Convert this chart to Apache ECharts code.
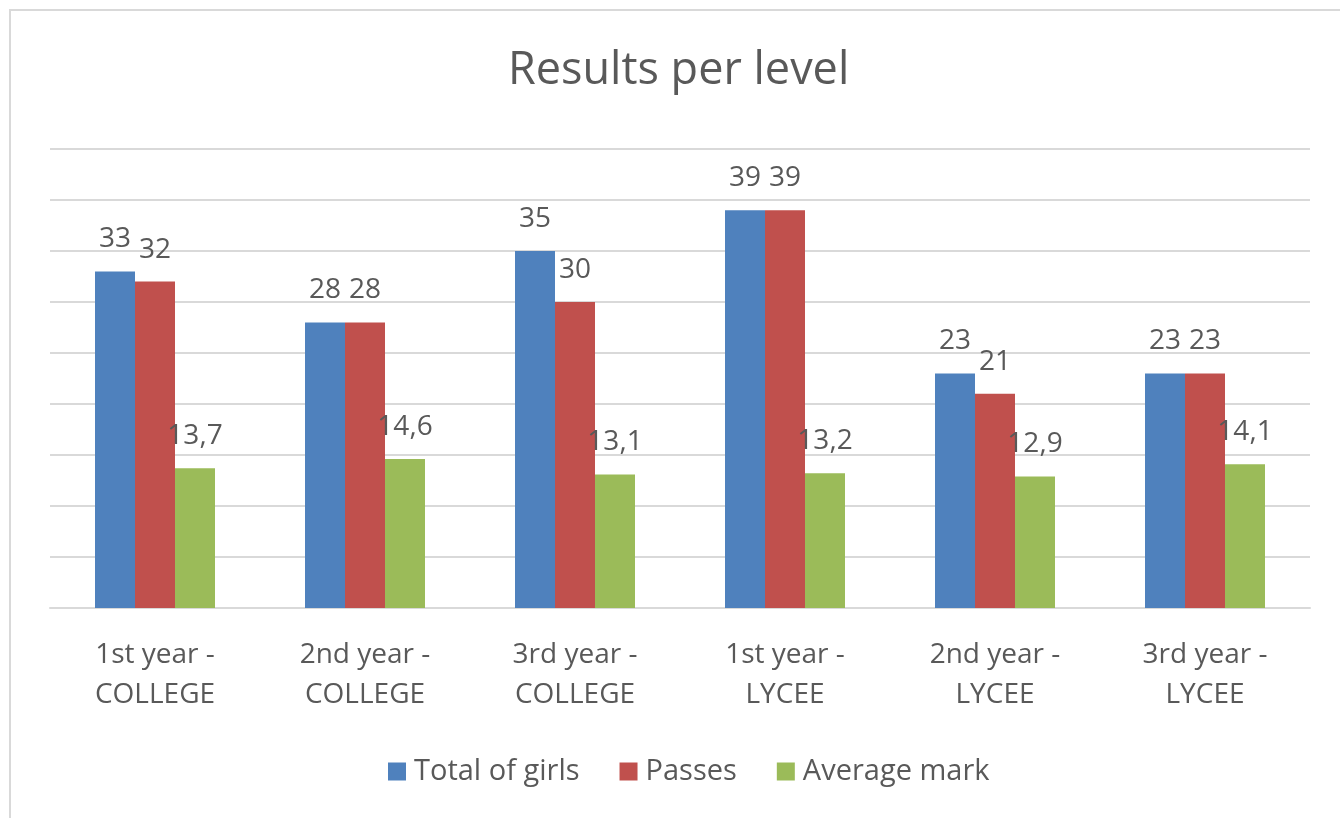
<!DOCTYPE html>
<html>
<head>
<meta charset="utf-8">
<script src="https://cdn.jsdelivr.net/npm/echarts@6/dist/echarts.min.js"></script>
<style>
html,body{margin:0;padding:0;background:#ffffff;}
#chart{width:1340px;height:818px;}
</style>
</head>
<body>
<div id="chart"></div>
<script>
const categories = ["1st year - COLLEGE", "2nd year - COLLEGE", "3rd year - COLLEGE", "1st year - LYCEE", "2nd year - LYCEE", "3rd year - LYCEE"];
const totalGirls = [33, 28, 35, 39, 23, 23];
const passes = [32, 28, 30, 39, 21, 23];
const averageMark = [13.7, 14.6, 13.1, 13.2, 12.9, 14.1];
const seriesNames = ["Total of girls", "Passes", "Average mark"];

const FONT = "Open Sans";
const TXT = "#595959";
const colors = ["#4F81BD", "#C0504D", "#9BBB59"];

function labelCfg() {
  return {
    show: true, position: "top", distance: 18,
    color: TXT, fontFamily: FONT, fontSize: 28,
    formatter: p => String(p.value).replace(".", ",")
  };
}

const chart = echarts.init(document.getElementById("chart"));
chart.setOption({
  backgroundColor: "#ffffff",
  color: colors,
  animation: false,
  title: {
    text: "Results per level",
    left: 503,
    top: 44,
    padding: 5,
    textStyle: { color: TXT, fontFamily: FONT, fontSize: 45, fontWeight: "normal" }
  },
  legend: {
    data: seriesNames,
    left: 383,
    top: 752,
    icon: "rect",
    itemWidth: 18, itemHeight: 18, itemGap: 40,
    textStyle: { color: TXT, fontFamily: FONT, fontSize: 29, padding: [0, 0, 0, 3] }
  },
  grid: { left: 50, right: 30, top: 149, bottom: 210 },
  xAxis: {
    type: "category",
    data: categories,
    axisLine: { show: true, lineStyle: { color: "#d9d9d9", width: 2 } },
    axisTick: { show: false },
    axisLabel: {
      color: TXT, fontFamily: FONT, fontSize: 28, lineHeight: 40, margin: 27,
      formatter: v => v.replace(" - ", " -\n")
    }
  },
  yAxis: {
    type: "value", min: 0, max: 45, interval: 5,
    axisLabel: { show: false },
    axisLine: { show: false }, axisTick: { show: false },
    splitLine: { lineStyle: { color: "#d9d9d9", width: 2 } }
  },
  series: [
    { name: seriesNames[0], type: "bar", data: totalGirls, barWidth: 40, barGap: "0%", label: labelCfg() },
    { name: seriesNames[1], type: "bar", data: passes, barWidth: 40, barGap: "0%", label: labelCfg() },
    { name: seriesNames[2], type: "bar", data: averageMark, barWidth: 40, barGap: "0%", label: labelCfg() }
  ],
  graphic: [{
    type: "rect", silent: true,
    shape: { x: 10, y: 10, width: 1400, height: 900 },
    style: { fill: null, stroke: "#d9d9d9", lineWidth: 2 }
  }]
});
</script>
</body>
</html>
